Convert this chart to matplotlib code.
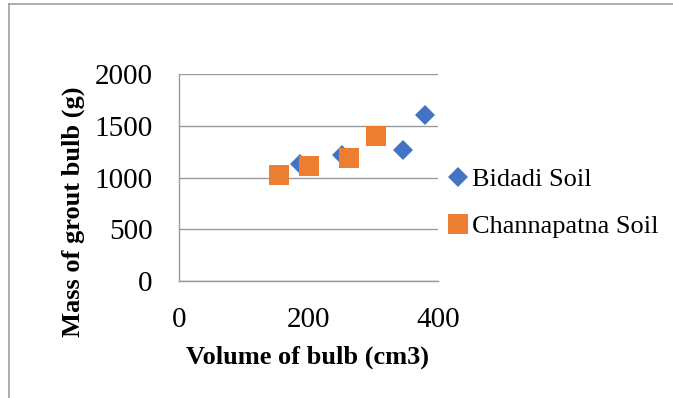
import matplotlib.pyplot as plt
from matplotlib.lines import Line2D

# volume (cm3) and mass of grout bulb (g)
bidadi_vol = [187, 251, 346, 380]
bidadi_mass = [1135, 1222, 1264, 1600]
chann_vol = [154, 201, 262, 305]
chann_mass = [1022, 1109, 1190, 1402]

xticks = [0, 200, 400]
yticks = [0, 500, 1000, 1500, 2000]

plt.rcParams['font.family'] = ['Liberation Serif', 'DejaVu Serif']

fig = plt.figure(figsize=(6.73, 3.98), dpi=100)
ax = fig.add_axes([179/673, 1 - 281/398, (438 - 179)/673, (281 - 74)/398])

ax.plot(bidadi_vol, bidadi_mass, 'D', color='#4472C4', markersize=10,
        markeredgewidth=0, label='Bidadi Soil', zorder=3)
ax.plot(chann_vol, chann_mass, 's', color='#ED7D31', markersize=14,
        markeredgewidth=0, label='Channapatna Soil', zorder=3)

ax.set_xlim(0, 400)
ax.set_ylim(0, 2000)
ax.set_xticks(xticks)
ax.set_yticks(yticks)
ax.tick_params(length=0, labelsize=21)
ax.tick_params(axis='x', pad=18.5)
ax.tick_params(axis='y', pad=19)
ax.yaxis.grid(True, color='#9A9A9A', linewidth=1)
ax.set_axisbelow(True)
for s in ('top', 'right'):
    ax.spines[s].set_visible(False)
for s in ('left', 'bottom'):
    ax.spines[s].set_color('#9A9A9A')
    ax.spines[s].set_linewidth(1)

fig.text(308/673, 1 - 357/398, 'Volume of bulb (cm3)', ha='center', va='center',
         fontsize=19, fontweight='bold')
fig.text(73/673, 1 - 212/398, 'Mass of grout bulb (g)', ha='center', va='center',
         rotation=90, fontsize=19, fontweight='bold')

fig.legend(loc='center left', bbox_to_anchor=(440/673, 1 - 203/398), frameon=False,
           fontsize=19, handlelength=0.6, handletextpad=0.2, labelspacing=0.9,
           borderaxespad=0)

# outer chart frame (only left and top edges fall inside the image)
fig.add_artist(Line2D([9/673, 9/673], [0, 1 - 4/398], color='#A0A0A0', lw=1.2))
fig.add_artist(Line2D([9/673, 1], [1 - 4/398, 1 - 4/398], color='#A0A0A0', lw=1.2))

fig.savefig('out.png', dpi=100)
